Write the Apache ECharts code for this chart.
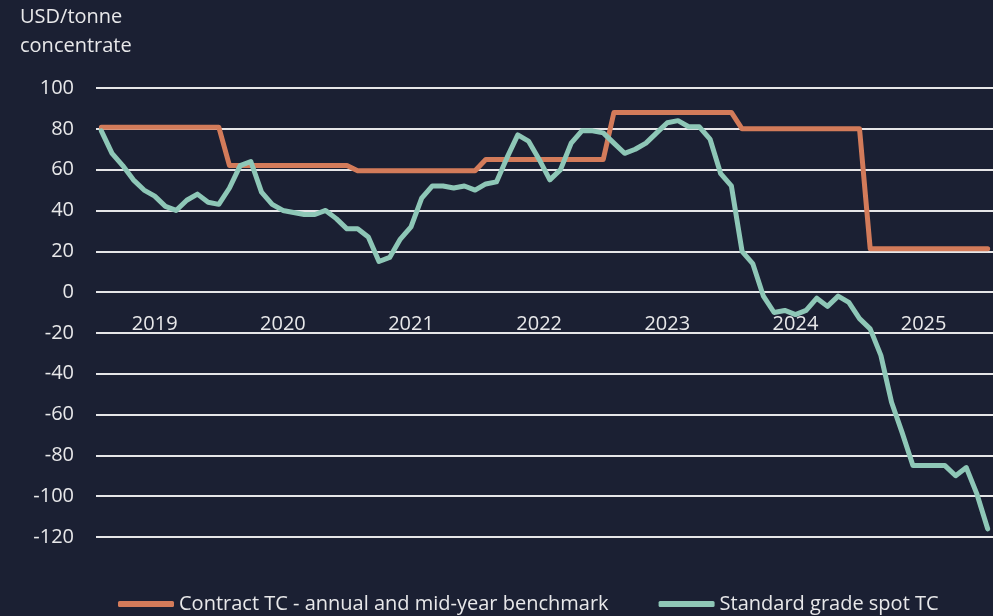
<!DOCTYPE html>
<html>
<head>
<meta charset="utf-8">
<script src="https://cdn.jsdelivr.net/npm/echarts@6/dist/echarts.min.js"></script>
<style>
  html, body { margin: 0; padding: 0; background: #1b2033; }
  #main { width: 993px; height: 616px; }
</style>
</head>
<body>
<div id="main"></div>
<script>
// years shown on the x axis, data is monthly (Jan 2019 - Dec 2025)
var years = ['2019', '2020', '2021', '2022', '2023', '2024', '2025']
var months = []
years.forEach(function (y) {
  for (var m = 1; m <= 12; m++) {
    months.push(y + '-' + (m < 10 ? '0' + m : m))
  }
})

var yTicks = { min: -120, max: 100, interval: 20 }

// Contract TC - annual and mid-year benchmark
var contractTC = [
  80.8, 80.8, 80.8, 80.8, 80.8, 80.8, 80.8, 80.8, 80.8, 80.8, 80.8, 80.8,
  62, 62, 62, 62, 62, 62, 62, 62, 62, 62, 62, 62,
  59.5, 59.5, 59.5, 59.5, 59.5, 59.5, 59.5, 59.5, 59.5, 59.5, 59.5, 59.5,
  65, 65, 65, 65, 65, 65, 65, 65, 65, 65, 65, 65,
  88, 88, 88, 88, 88, 88, 88, 88, 88, 88, 88, 88,
  80, 80, 80, 80, 80, 80, 80, 80, 80, 80, 80, 80,
  21.25, 21.25, 21.25, 21.25, 21.25, 21.25, 21.25, 21.25, 21.25, 21.25, 21.25, 21.25
]

// Standard grade spot TC
var spotTC = [
  79, 68, 62, 55, 50, 47, 42, 40, 45, 48, 44, 43,
  51, 62, 64, 49, 43, 40, 39, 38, 38, 40, 36, 31,
  31, 27, 15, 17, 26, 32, 46, 52, 52, 51, 52, 50,
  53, 54, 66, 77, 74, 65, 55, 60, 73, 79, 79, 78,
  73, 68, 70, 73, 78, 83, 84, 81, 81, 75, 58, 52,
  20, 14, -2, -10, -9, -11, -9, -3, -7, -2, -5, -13,
  -18, -31, -54, -69, -85, -85, -85, -85, -90, -86, -99, -116
]

var textColor = '#e8e8ea'
var gridColor = '#e6e6e8'
var font = 'Open Sans'

var gridTop = 88
var gridBottom = 79
var plotHeight = 616 - gridTop - gridBottom
// distance from the bottom of the plot up to the zero line
var zeroOffset = plotHeight * (0 - yTicks.min) / (yTicks.max - yTicks.min)

var myChart = echarts.init(document.getElementById('main'))
myChart.setOption({
  backgroundColor: '#1b2033',
  animation: false,
  color: ['#d37b5a', '#8ec7b7'],
  title: {
    text: 'USD/tonne\nconcentrate',
    left: 20,
    top: 3,
    padding: 0,
    textStyle: {
      color: textColor,
      fontFamily: font,
      fontSize: 20,
      fontWeight: 'normal',
      lineHeight: 29
    }
  },
  legend: {
    left: 118,
    top: 594,
    padding: 0,
    icon: 'roundRect',
    itemWidth: 56,
    itemHeight: 6,
    itemGap: 50,
    textStyle: {
      color: textColor,
      fontFamily: font,
      fontSize: 20
    },
    data: ['Contract TC - annual and mid-year benchmark', 'Standard grade spot TC']
  },
  grid: {
    left: 96,
    right: 0,
    top: gridTop,
    bottom: gridBottom
  },
  xAxis: {
    type: 'category',
    data: months,
    boundaryGap: true,
    // year labels sit just under the zero line
    offset: -zeroOffset,
    axisLine: { show: false, onZero: false },
    axisTick: { show: false },
    axisLabel: {
      color: textColor,
      fontFamily: font,
      fontSize: 20,
      margin: 22,
      interval: function (index) { return index % 12 === 5 },
      formatter: function (value) { return value.slice(0, 4) }
    },
    splitLine: { show: false }
  },
  yAxis: {
    type: 'value',
    min: yTicks.min,
    max: yTicks.max,
    interval: yTicks.interval,
    axisLine: { show: false },
    axisTick: { show: false },
    axisLabel: {
      color: textColor,
      fontFamily: font,
      fontSize: 20,
      margin: 22
    },
    splitLine: {
      lineStyle: { color: gridColor, width: 2 }
    }
  },
  series: [
    {
      name: 'Contract TC - annual and mid-year benchmark',
      type: 'line',
      symbol: 'none',
      data: contractTC,
      lineStyle: { width: 5, color: '#d37b5a', cap: 'round', join: 'round' }
    },
    {
      name: 'Standard grade spot TC',
      type: 'line',
      symbol: 'none',
      data: spotTC,
      lineStyle: { width: 5, color: '#8ec7b7', cap: 'round', join: 'round' }
    }
  ]
})
</script>
</body>
</html>
